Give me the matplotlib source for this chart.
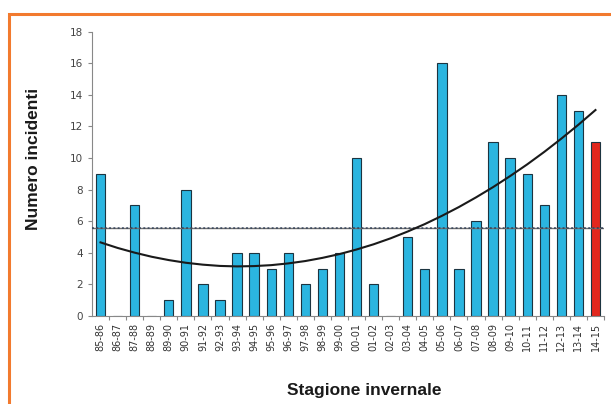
import matplotlib
matplotlib.use("Agg")
import matplotlib.pyplot as plt
from matplotlib.patches import Rectangle

# seasons and incident counts
seasons = ["85-86", "86-87", "87-88", "88-89", "89-90", "90-91", "91-92", "92-93",
           "93-94", "94-95", "95-96", "96-97", "97-98", "98-99", "99-00", "00-01",
           "01-02", "02-03", "03-04", "04-05", "05-06", "06-07", "07-08", "08-09",
           "09-10", "10-11", "11-12", "12-13", "13-14", "14-15"]
incidents = [9, 0, 7, 0, 1, 8, 2, 1, 4, 4, 3, 4, 2, 3, 4, 10,
             2, 0, 5, 3, 16, 3, 6, 11, 10, 9, 7, 14, 13, 11]
# trend curve values at each season
trend = [4.66, 4.31, 4.01, 3.75, 3.54, 3.37, 3.25, 3.17, 3.14, 3.16,
         3.22, 3.33, 3.48, 3.68, 3.92, 4.21, 4.54, 4.92, 5.35, 5.82,
         6.34, 6.90, 7.51, 8.16, 8.86, 9.60, 10.39, 11.23, 12.11, 13.04]
mean_level = 5.6
y_ticks = [0, 2, 4, 6, 8, 10, 12, 14, 16, 18]

BLUE = "#2bb5e0"
RED = "#e2271d"
ORANGE = "#f27a2e"

fig = plt.figure(figsize=(6.11, 4.04), dpi=100)
fig.patch.set_facecolor("white")
ax = fig.add_axes([92 / 611, 1 - 316 / 404, (604 - 92) / 611, (316 - 31.7) / 404])

x = list(range(len(seasons)))
colors = [BLUE] * (len(seasons) - 1) + [RED]
ax.bar(x, incidents, width=0.55, color=colors, edgecolor="#1c3440", linewidth=0.8, zorder=2)

# mean line (solid grey + dotted overlay)
ax.axhline(mean_level, color="#707070", linewidth=1.0, zorder=3)
ax.axhline(mean_level, color="#2a3a55", linewidth=1.4, linestyle=(0, (1, 1.2)), zorder=3,
           alpha=0.7)
ax.plot(x, trend, color="#1a1a1a", linewidth=1.5, zorder=4)

ax.set_xlim(-0.5, len(seasons) - 0.5)
ax.set_ylim(0, 18)
ax.set_yticks(y_ticks)
ax.tick_params(axis="y", labelsize=7.5, labelcolor="#444444", color="#888888",
               length=3, width=0.8)
ax.set_xticks(x)
ax.set_xticklabels(seasons, rotation=90, fontsize=7, color="#333333")
ax.set_xticks([i + 0.5 for i in x], minor=True)
ax.tick_params(axis="x", which="major", length=0, pad=5)
ax.tick_params(axis="x", which="minor", length=3, color="#888888", width=0.8)
for side in ["top", "right"]:
    ax.spines[side].set_visible(False)
for side in ["left", "bottom"]:
    ax.spines[side].set_color("#888888")
    ax.spines[side].set_linewidth(0.8)

fig.text(34 / 611, 1 - 159 / 404, "Numero incidenti", rotation=90, ha="center", va="center",
         fontsize=12.5, fontweight="bold", family="Liberation Sans", color="#1a1a1a")
fig.text(364 / 611, 1 - 391 / 404, "Stagione invernale", ha="center", va="center",
         fontsize=12.5, fontweight="bold", family="Liberation Sans", color="#1a1a1a")

# orange frame (open at right and bottom edges)
fig.patches.append(Rectangle((8.5 / 611, -0.1), 1.2, (404 - 13.5) / 404 + 0.1,
                             transform=fig.transFigure, fill=False, edgecolor=ORANGE,
                             linewidth=2.2, clip_on=False))

fig.savefig("out.png", dpi=100)
